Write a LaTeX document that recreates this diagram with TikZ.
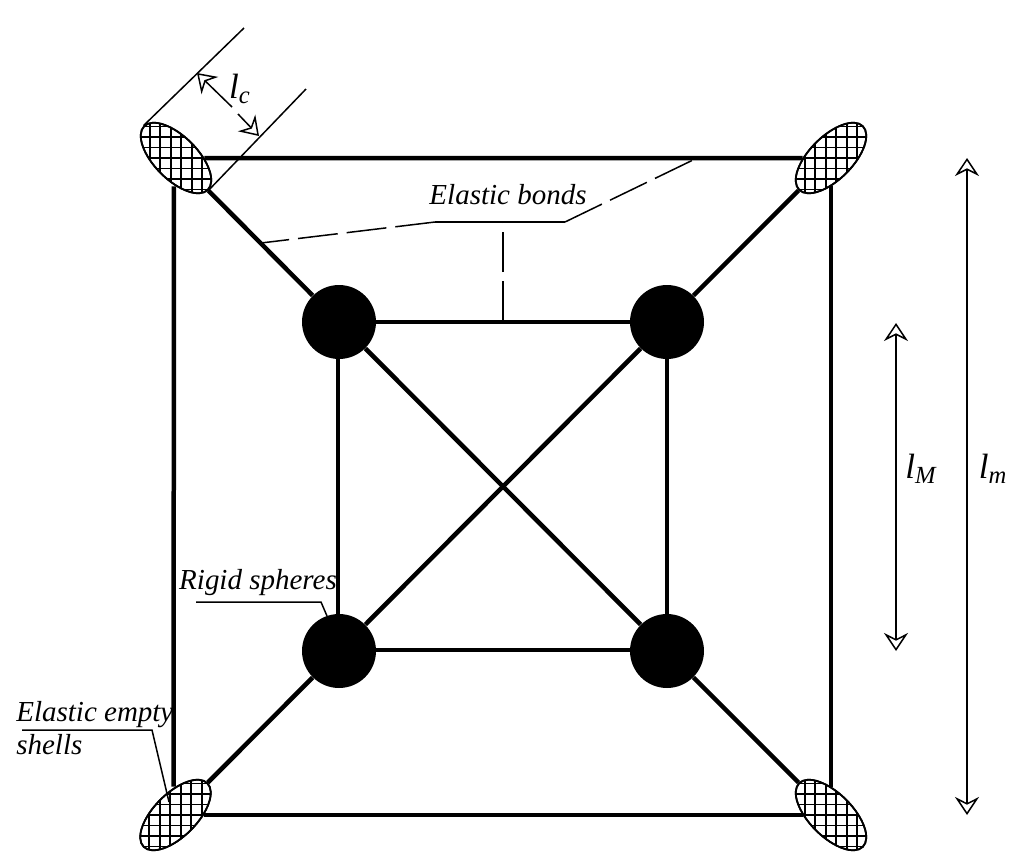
\documentclass[tikz,border=0pt]{standalone}
\usepackage{fontspec}
\setmainfont{Liberation Serif}
\usetikzlibrary{shapes.geometric,arrows.meta}
\tikzset{
  bond/.style={line width=0.09cm},
  bond-thin/.style={line width=0.08cm},
  leader/.style={line width=0.03cm},
  leader-dash/.style={leader, dash pattern=on 0.8cm off 0.18cm},
  size-arrow/.style={line width=0.03cm, {Stealth[open,length=0.36cm,width=0.48cm,inset=0.12cm]}-{Stealth[open,length=0.36cm,width=0.48cm,inset=0.12cm]}},
  size-tip/.style={line width=0.03cm, -{Stealth[open,length=0.36cm,width=0.48cm,inset=0.12cm]}},
  node-sphere/.style={circle, fill=black, minimum size=1.48cm, inner sep=0pt},
  node-shell/.style={ellipse, draw=black, line width=0.035cm, fill=white, minimum width=1.8cm, minimum height=0.86cm, inner sep=0pt},
  label/.style={font=\itshape\fontsize{16.5}{19.5}\selectfont, inner sep=0pt, align=left}
}
% shell: name, position, rotation
\newcommand{\shell}[3]{
  \node[node-shell, rotate=#3] (#1) at (#2) {};
  \begin{scope}
    \clip[rotate around={#3:(#2)}] (#2) ellipse [x radius=45, y radius=21.5];
    \foreach \d in {-4,...,3} {
      \draw[line width=0.036cm, shift={(#2)}] ({(\d+0.5)*10.5},-60) -- ({(\d+0.5)*10.5},60);
      \draw[line width=0.036cm, shift={(#2)}] (-60,{\d*10.5}) -- (60,{\d*10.5});
    }
    \draw[line width=0.036cm, shift={(#2)}] (-60,{4*10.5}) -- (60,{4*10.5});
  \end{scope}
  \node[node-shell, rotate=#3, fill=none] at (#2) {};
}

\begin{document}
\begin{tikzpicture}[x=0.02cm, y=-0.02cm]
  \useasboundingbox (0,0) rectangle (1024,866);

  % --- The Shells ---
  \shell{shell-tl}{176,158}{-45}
  \shell{shell-tr}{831,158}{45}
  \shell{shell-bl}{175.5,815}{45}
  \shell{shell-br}{831,815}{-45}

  % --- The Spheres ---
  \node[node-sphere] (sphere-tl) at (339,322) {};
  \node[node-sphere] (sphere-tr) at (667,322) {};
  \node[node-sphere] (sphere-bl) at (339,651) {};
  \node[node-sphere] (sphere-br) at (667,651) {};

  % Outer square
  \draw[bond] (shell-tl) -- (shell-tr);
  \draw[bond] (shell-tr) -- (shell-br);
  \draw[bond] (shell-br) -- (shell-bl);
  \draw[bond, transform canvas={xshift=-0.04cm}] (shell-bl) -- (shell-tl);

  % Inner square
  \draw[bond-thin] (sphere-tl) -- (sphere-tr);
  \draw[bond-thin] (sphere-tr) -- (sphere-br);
  \draw[bond-thin, transform canvas={yshift=0.02cm}] (sphere-br) -- (sphere-bl);
  \draw[bond-thin, transform canvas={xshift=-0.03cm}] (sphere-bl) -- (sphere-tl);

  % Diagonals
  \draw[bond] (shell-tl) -- (sphere-tl);
  \draw[bond] (shell-tr) -- (sphere-tr);
  \draw[bond] (shell-bl) -- (sphere-bl);
  \draw[bond] (shell-br) -- (sphere-br);
  \draw[bond] (sphere-tl) -- (sphere-br);
  \draw[bond] (sphere-tr) -- (sphere-bl);

  % --- The Shell Length ---
  \coordinate (lc-top) at (244,28);
  \coordinate (lc-bottom) at (306,89);
  \coordinate (lc-start) at (197,73);
  \coordinate (lc-end) at (259,136);
  \coordinate (lc-gap-a) at (232,107);
  \coordinate (lc-gap-b) at (238,114);
  \draw[leader] (shell-tl.west) -- (lc-top);
  \draw[leader] (shell-tl.east) -- (lc-bottom);
  \draw[size-tip] (lc-gap-a) -- (lc-start);
  \draw[size-tip] (lc-gap-b) -- (lc-end);
  \node[label] (lc-label) at (240,89) {\fontsize{20}{20}\selectfont l\textsubscript{c}};

  % --- The Elastic Bonds Label ---
  \node[label] (bonds-label) at (508,195) {Elastic bonds};
  \coordinate (bonds-a) at (261,243);
  \coordinate (bonds-b) at (435,222);
  \coordinate (bonds-c) at (565,222);
  \coordinate (bonds-d) at (693,160);
  \coordinate (bonds-e) at (503,222);
  \coordinate (bonds-f) at (503,321);
  \draw[leader-dash] (bonds-b) -- (bonds-a);
  \draw[leader] (bonds-b) -- (bonds-c);
  \draw[leader-dash, dash pattern=on 0.82cm off 0.18cm] (bonds-c) -- (bonds-d);
  \draw[leader-dash] (bonds-f) -- (bonds-e);

  % --- The Side Labels ---
  \node[label] (spheres-label) at (258,583) {Rigid spheres};
  \coordinate (spheres-a) at (196,602);
  \coordinate (spheres-b) at (321,602);
  \coordinate (spheres-c) at (327,616);
  \draw[leader] (spheres-a) -- (spheres-b) -- (spheres-c);

  \node[label, anchor=north west] (shells-label) at (16,701) {Elastic empty\\[-0.7pt]shells};
  \coordinate (shells-a) at (22,730);
  \coordinate (shells-b) at (152,730);
  \coordinate (shells-c) at (169,802);
  \draw[leader] (shells-a) -- (shells-b) -- (shells-c);

  % --- The Sizes ---
  \coordinate (lm-top) at (967,158);
  \coordinate (lm-bottom) at (967,815);
  \coordinate (lM-top) at (896,323);
  \coordinate (lM-bottom) at (896,651);
  \draw[size-arrow] (lm-top) -- (lm-bottom);
  \draw[size-arrow] (lM-top) -- (lM-bottom);
  \node[label] (lM-label) at (921,469) {\fontsize{20}{20}\selectfont l\textsubscript{M}};
  \node[label] (lm-label) at (993,469) {\fontsize{20}{20}\selectfont l\textsubscript{m}};
\end{tikzpicture}
\end{document}
